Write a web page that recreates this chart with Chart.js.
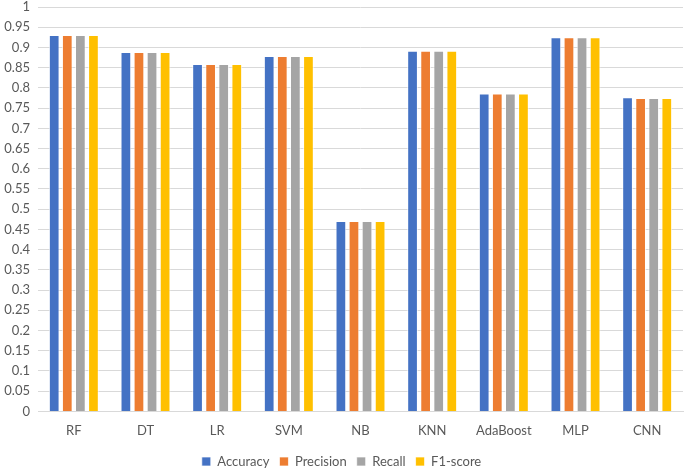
<!DOCTYPE html>
<html>
<head>
<meta charset="utf-8">
<script src="https://cdn.jsdelivr.net/npm/chart.js@4.4.0/dist/chart.umd.min.js"></script>
<style>
  html, body { margin: 0; padding: 0; background: #ffffff; }
  #wrap { width: 685px; height: 470px; }
</style>
</head>
<body>
<div id="wrap"><canvas id="metrics-chart" width="685" height="470"></canvas></div>
<script>
// Classifier comparison
const models = ["RF", "DT", "LR", "SVM", "NB", "KNN", "AdaBoost", "MLP", "CNN"];
const accuracy  = [0.931, 0.889, 0.859, 0.879, 0.471, 0.892, 0.786, 0.925, 0.777];
const precision = [0.931, 0.889, 0.859, 0.879, 0.471, 0.892, 0.786, 0.925, 0.775];
const recall    = [0.931, 0.889, 0.859, 0.879, 0.471, 0.892, 0.786, 0.925, 0.775];
const f1score   = [0.931, 0.889, 0.859, 0.879, 0.471, 0.892, 0.786, 0.925, 0.775];
const yTicks = [0, 0.05, 0.1, 0.15, 0.2, 0.25, 0.3, 0.35, 0.4, 0.45, 0.5, 0.55, 0.6, 0.65, 0.7, 0.75, 0.8, 0.85, 0.9, 0.95, 1];

const FONT = "Lato, 'Open Sans', sans-serif";
const TEXT = "#595959";

function series(label, data, color) {
  return {
    label: label,
    data: data,
    backgroundColor: color,
    borderColor: "rgba(255,255,255,0.7)",
    borderWidth: 1,
    categoryPercentage: 0.73,
    barPercentage: 0.82
  };
}

new Chart(document.getElementById("metrics-chart").getContext("2d"), {
  type: "bar",
  data: {
    labels: models,
    datasets: [
      series("Accuracy", accuracy, "#4472C4"),
      series("Precision", precision, "#ED7D31"),
      series("Recall", recall, "#A5A5A5"),
      series("F1-score", f1score, "#FFC000")
    ]
  },
  options: {
    responsive: false,
    animation: false,
    layout: { padding: { top: 0, right: 2, left: 0, bottom: -8 } },
    plugins: {
      legend: {
        position: "bottom",
        labels: {
          color: TEXT,
          font: { family: FONT, size: 13 },
          boxWidth: 9,
          boxHeight: 9,
          padding: 10
        }
      },
      tooltip: { enabled: false }
    },
    scales: {
      x: {
        grid: { display: false, drawTicks: false },
        border: { display: true, color: "#d9d9d9", width: 1 },
        ticks: { color: TEXT, font: { family: FONT, size: 13 }, padding: 12 },
        // pull the legend up a little closer to the category labels
        afterFit: (axis) => { axis.height -= 6; }
      },
      y: {
        min: 0,
        max: 1,
        afterBuildTicks: (axis) => { axis.ticks = yTicks.map(v => ({ value: v })); },
        afterFit: (axis) => {
          axis.width = 38;
          axis.paddingTop = 7;  // top gridline sits ~7px below the edge
          axis.paddingBottom = 0;
        },
        grid: { color: "#d9d9d9", lineWidth: 1, drawTicks: false },
        border: { display: false },
        ticks: {
          color: TEXT,
          font: { family: FONT, size: 13 },
          padding: 8,
          callback: (v) => String(+v.toFixed(2))
        }
      }
    }
  }
});
</script>
</body>
</html>
